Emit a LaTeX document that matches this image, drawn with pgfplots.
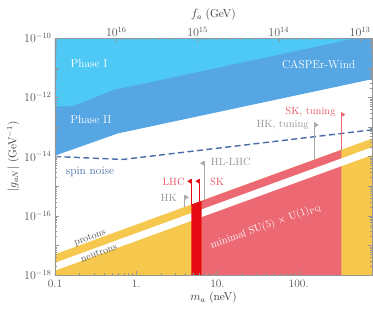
\documentclass[border=0pt]{standalone}
\usepackage{pgfplots}
\pgfplotsset{compat=1.18}
\definecolor{phaseI}{RGB}{78,200,245}
\definecolor{phaseII}{RGB}{86,166,228}
\definecolor{yel}{RGB}{246,200,78}
\definecolor{pinkr}{RGB}{236,104,115}
\definecolor{redstrip}{RGB}{230,10,20}
\definecolor{spinb}{RGB}{72,108,170}
\definecolor{grl}{RGB}{170,170,170}
\definecolor{labred}{RGB}{235,85,100}
\definecolor{axgray}{RGB}{150,150,150}
\definecolor{txtgray}{RGB}{85,85,85}
\pgfplotsset{
  common/.style={
    at={(0,0)}, anchor=south west,
    scale only axis, width=317bp, height=237bp,
    axis line style={axgray},
    tick style={axgray},
    major tick length=4bp, minor tick length=2bp,
    tick align=inside,
    tick label style={font=\fontsize{11.5}{13}\selectfont, text=txtgray},
    label style={font=\fontsize{11.5}{13}\selectfont, text=black!80},
  }
}
\begin{document}
\begin{tikzpicture}
\begin{axis}[common,
  xmode=log, ymode=log,
  xmin=0.1, xmax=800, ymin=1e-18, ymax=1e-10,
  xtick={0.1,1,10,100}, xticklabels={0.1,1.,10.,100.},
  ytick={1e-18,1e-17,1e-16,1e-15,1e-14,1e-13,1e-12,1e-11,1e-10},
  yticklabels={$10^{-18}$,,$10^{-16}$,,$10^{-14}$,,$10^{-12}$,,$10^{-10}$},
  xtick pos=lower, ytick pos=both, yticklabel pos=left,
  xlabel={$m_a$ (neV)}, ylabel={$|g_{aN}|$ (GeV$^{-1}$)},
  xticklabel style={yshift=-1bp},
  xlabel style={yshift=2bp},
  ylabel style={yshift=-2bp},
  clip=true, axis on top,
]
% CASPEr-Wind regions
\addplot[fill=phaseII, draw=none] coordinates {(0.1,1e-9) (0.1,1.07e-14) (0.596,6.03e-14) (800,4.07e-12) (800,1e-9)};
\addplot[fill=phaseI, draw=none] coordinates {(0.1,1e-9) (0.1,4.9e-13) (0.162,4.9e-13) (0.516,1.74e-12) (519,1e-10) (800,1.3e-10) (800,1e-9)};
% spin noise
\addplot[spinb, line width=1.4bp, dash pattern=on 6bp off 3.5bp] coordinates {(0.1,1e-14) (0.685,7.94e-15) (800,7.94e-14)};
% nucleon bands
\addplot[fill=yel, draw=none] coordinates {(0.1,1e-19) (0.1,5.01e-18) (800,4.01e-14) (800,1e-19)};
\addplot[fill=pinkr, draw=none] coordinates {(6.4,1e-19) (6.4,3.21e-16) (336,1.68e-14) (336,1e-19)};
\addplot[fill=white, draw=none] coordinates {(0.08,2.06e-18) (1000,2.57e-14) (1000,1.41e-14) (0.08,1.13e-18)};
\addplot[fill=redstrip, draw=none] coordinates {(4.77,1e-19) (4.77,2.39e-16) (6.4,3.21e-16) (6.4,1e-19)};
% experiment lines
\addplot[grl, line width=1.2bp] coordinates {(3.97,1.99e-16) (3.97,5.1e-16)};
\addplot[fill=grl, draw=none] coordinates {(3.97,5.1e-16) (4.45,4.2e-16) (3.97,3.45e-16)};
\addplot[redstrip, line width=1.2bp] coordinates {(4.77,2.39e-16) (4.77,1.78e-15)};
\addplot[fill=redstrip, draw=none] coordinates {(4.77,1.78e-15) (4.26,1.465e-15) (4.77,1.2e-15)};
\addplot[redstrip, line width=1.2bp] coordinates {(6.0,3.0e-16) (6.0,1.78e-15)};
\addplot[fill=redstrip, draw=none] coordinates {(6.0,1.78e-15) (5.36,1.465e-15) (6.0,1.2e-15)};
\addplot[grl, line width=1.2bp] coordinates {(6.86,3.44e-16) (6.86,7.2e-15)};
\addplot[fill=grl, draw=none] coordinates {(6.86,7.2e-15) (6.12,5.93e-15) (6.86,4.87e-15)};
\addplot[grl, line width=1.2bp] coordinates {(158,7.9e-15) (158,1.41e-13)};
\addplot[fill=grl, draw=none] coordinates {(158,1.41e-13) (177,1.16e-13) (158,0.955e-13)};
\addplot[pinkr, line width=1.2bp] coordinates {(336,1.68e-14) (336,3.16e-13)};
\addplot[fill=pinkr, draw=none] coordinates {(336,3.16e-13) (376,2.6e-13) (336,2.14e-13)};
% labels
\node[text=white, font=\fontsize{11.5}{13}\selectfont] at (axis cs:0.262,1.32e-11) {Phase I};
\node[text=white, font=\fontsize{11.5}{13}\selectfont] at (axis cs:0.277,1.74e-13) {Phase II};
\node[text=white, font=\fontsize{11.5}{13}\selectfont] at (axis cs:176.6,1.32e-11) {CASPEr-Wind};
\node[text=spinb, font=\fontsize{11.5}{13}\selectfont] at (axis cs:0.27,3.1e-15) {spin noise};
\node[text=axgray, anchor=east, font=\fontsize{10.5}{12}\selectfont, inner sep=1bp] at (axis cs:3.26,4.07e-16) {HK};
\node[text=labred, anchor=east, font=\fontsize{10.5}{12}\selectfont, inner sep=1bp] at (axis cs:4.08,1.44e-15) {LHC};
\node[text=labred, anchor=west, font=\fontsize{10.5}{12}\selectfont, inner sep=1bp] at (axis cs:7.83,1.44e-15) {SK};
\node[text=axgray, anchor=west, font=\fontsize{10.5}{12}\selectfont, inner sep=1bp] at (axis cs:8.05,6.5e-15) {HL-LHC};
\node[text=axgray, anchor=east, font=\fontsize{10.5}{12}\selectfont, inner sep=1bp] at (axis cs:137,1.2e-13) {HK, tuning};
\node[text=labred, anchor=east, font=\fontsize{10.5}{12}\selectfont, inner sep=1bp] at (axis cs:294,3.1e-13) {SK, tuning};
\node[text=white, rotate=20, font=\fontsize{10.5}{12}\selectfont] at (axis cs:39.4,4.3e-17) {minimal SU(5) $\times$ U(1)$_{\mathrm{PQ}}$};
\node[text=txtgray, rotate=20, font=\fontsize{10}{12}\selectfont] at (axis cs:0.27,1.78e-17) {protons};
\node[text=txtgray, rotate=20, font=\fontsize{10}{12}\selectfont] at (axis cs:0.347,5.6e-18) {neutrons};
\end{axis}
\begin{axis}[common,
  xmode=log, x dir=reverse,
  xmin=7.125e12, xmax=5.7e16, ymin=0, ymax=1,
  axis x line*=top, axis y line=none,
  xtick={1e13,1e14,1e15,1e16},
  xticklabel style={yshift=-2bp},
  xlabel={$f_a$ (GeV)},
]
\addplot[draw=none] coordinates {(1e14,0.5)};
\end{axis}
\pgfresetboundingbox
\path (-55bp,-41bp) rectangle (318bp,275bp);
\end{tikzpicture}
\end{document}
